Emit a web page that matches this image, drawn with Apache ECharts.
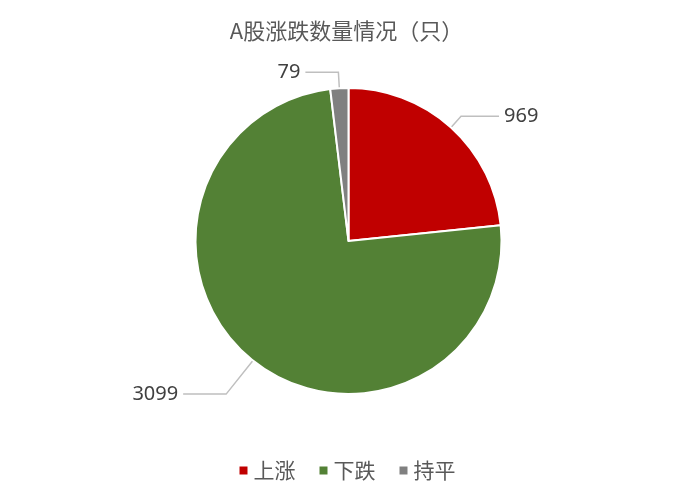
<!DOCTYPE html>
<html><head><meta charset="utf-8">
<script src="https://cdn.jsdelivr.net/npm/echarts@6/dist/echarts.min.js"></script>
<style>html,body{margin:0;padding:0;background:#fff}#c{width:693px;height:493px}</style>
</head><body><div id="c"></div>
<script>
const categories = ['上涨', '下跌', '持平'];
const values = [969, 3099, 79];
const colors = ['#C00000', '#538135', '#808080'];
const title = 'A股涨跌数量情况（只）';
const lineLen = [15, 43, 16];
const lineLen2 = [38, 43, 33];
const labelPad = [[0, 0, 4, 0], [0, 0, 10, 0], [0, 0, 14, 0]];

const chart = echarts.init(document.getElementById('c'));
chart.setOption({
  animation: false,
  title: {text: title, left: 'center', top: 15,
    textStyle: {fontFamily: 'Noto Sans CJK SC', fontSize: 22, fontWeight: 'normal', color: '#595959'}},
  legend: {bottom: 7, left: 'center', itemWidth: 10, itemHeight: 10, itemGap: 22, icon: 'rect',
    textStyle: {fontFamily: 'Noto Sans CJK SC', fontSize: 21, color: '#595959'},
    data: categories},
  series: [{
    type: 'pie', center: [348.5, 241], radius: [0, 153], startAngle: 90, clockwise: true,
    itemStyle: {borderColor: '#fff', borderWidth: 2},
    label: {show: true, formatter: '{c}', fontFamily: 'Noto Sans', fontSize: 20, color: '#404040'},
    labelLine: {show: true, lineStyle: {color: '#BFBFBF', width: 1.5}},
    data: categories.map((c, i) => ({name: c, value: values[i], itemStyle: {color: colors[i]},
      label: {padding: labelPad[i]},
      labelLine: {length: lineLen[i], length2: lineLen2[i]}}))
  }]
});
</script></body></html>
